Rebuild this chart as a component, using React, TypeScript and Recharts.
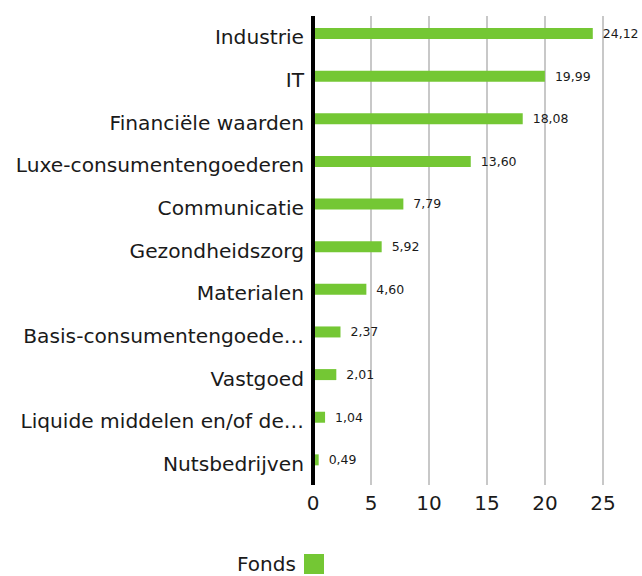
import React from 'react';
import { Bar, BarChart, CartesianGrid, LabelList, Legend, XAxis, YAxis } from 'recharts';

const sectors = [
  'Industrie',
  'IT',
  'Financiële waarden',
  'Luxe-consumentengoederen',
  'Communicatie',
  'Gezondheidszorg',
  'Materialen',
  'Basis-consumentengoede…',
  'Vastgoed',
  'Liquide middelen en/of de…',
  'Nutsbedrijven',
];
const fondsValues = [24.12, 19.99, 18.08, 13.6, 7.79, 5.92, 4.6, 2.37, 2.01, 1.04, 0.49];
const xTicks = [0, 5, 10, 15, 20, 25];

const data = sectors.map((name, i) => ({ name, fonds: fondsValues[i] }));

const GREEN = '#74C734';
const FONT = '"DejaVu Sans", Verdana, sans-serif';

const fmt = (v: number) => v.toFixed(2).replace('.', ',');

const LegendContent = () => (
  <div
    style={{
      display: 'flex',
      alignItems: 'flex-end',
      height: 30,
      paddingLeft: 237,
      paddingBottom: 2,
      boxSizing: 'border-box',
      fontFamily: FONT,
      fontSize: 20,
      color: '#1a1a1a',
    }}
  >
    <span style={{ lineHeight: '24px', marginBottom: -2 }}>Fonds</span>
    <span style={{ display: 'inline-block', width: 20, height: 20, background: GREEN, marginLeft: 8 }} />
  </div>
);

const App = () => {
  return (
    <div style={{ position: 'absolute', left: 0, top: 0, width: 642, height: 576, fontFamily: FONT }}>
      <BarChart
        width={642}
        height={576}
        data={data}
        layout="vertical"
        margin={{ top: 16, right: 39, bottom: 0, left: 0 }}
        barSize={11}
        barGap={-4}
      >
        <CartesianGrid horizontal={false} stroke="#c8c8c8" strokeWidth={2} />
        <XAxis
          type="number"
          domain={[0, 25]}
          ticks={xTicks}
          axisLine={false}
          tickLine={false}
          height={61}
          tickMargin={5}
          tick={{ fontSize: 20, fill: '#1a1a1a', fontFamily: FONT }}
          interval={0}
        />
        <YAxis
          type="category"
          dataKey="name"
          width={313}
          axisLine={{ stroke: '#000', strokeWidth: 4 }}
          tickLine={false}
          tickMargin={3}
          tick={{ fontSize: 20.2, fill: '#1a1a1a', fontFamily: FONT }}
          interval={0}
        />
        <Legend verticalAlign="bottom" height={30} content={() => <LegendContent />} />
        <Bar dataKey="fonds" name="Fonds" fill={GREEN} isAnimationActive={false}>
          <LabelList
            dataKey="fonds"
            position="right"
            offset={10}
            formatter={(v: any) => fmt(Number(v))}
            style={{ fontSize: 12.5, fill: '#1a1a1a', fontFamily: FONT }}
          />
        </Bar>
        {/* second (empty) slot in each band, keeps Fonds bar in upper half */}
        <Bar dataKey="benchmark" fill="transparent" isAnimationActive={false} legendType="none" />
      </BarChart>
    </div>
  );
};

export default App;
